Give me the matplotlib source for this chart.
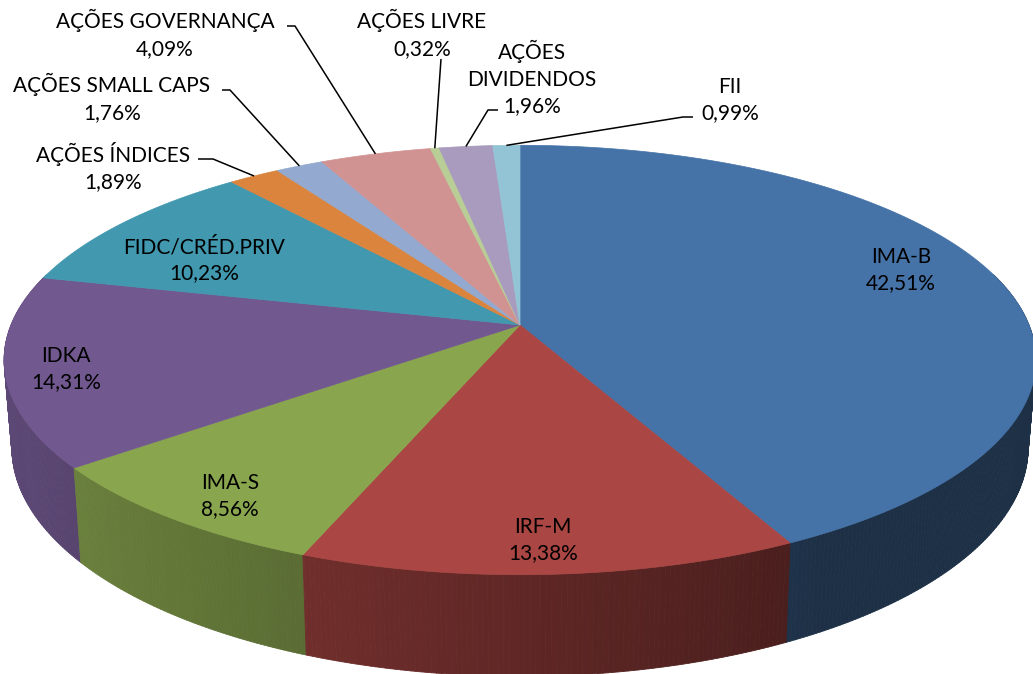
import numpy as np
import matplotlib
matplotlib.use("Agg")
import matplotlib.pyplot as plt
from matplotlib.collections import PolyCollection
from matplotlib.patches import Polygon
from matplotlib.colors import to_rgb

# ---------------- data ----------------
categories = ["IMA-B", "IRF-M", "IMA-S", "IDKA", "FIDC/CRÉD.PRIV",
              "AÇÕES ÍNDICES", "AÇÕES SMALL CAPS", "AÇÕES GOVERNANÇA",
              "AÇÕES LIVRE", "AÇÕES\nDIVIDENDOS", "FII"]
values = [42.51, 13.38, 8.56, 14.31, 10.23, 1.89, 1.76, 4.09, 0.32, 1.96, 0.99]
colors = ["#4572A7", "#AA4643", "#89A54E", "#71588F", "#4198AF",
          "#DB843D", "#93A9CF", "#D19392", "#B9CD96", "#A99BBD", "#92C4D5"]

# ---------------- layout / geometry ----------------
CX, CY = 520.0, 325.0      # apex of the pie on the top face (pixels)
A, M = 509.0, 209.0        # horizontal / vertical radii
P = 0.163                  # perspective factor
H = 85.0                   # thickness
SHRINK = 0.015             # bottom face slightly smaller (perspective)

# label centres (x, y) for each slice
label_pos = [(901, 270), (543, 540), (230, 496), (66, 369), (204, 260),
             (113, 167), (112, 98), (165, 34), (422, 34), (532, 78), (730, 100)]
# leader line fixed points (start near the label, elbow); None = no leader
leaders = [None, None, None, None, None,
           [(198, 159), (213, 159)],
           [(222, 90), (230, 90)],
           [(287, 26), (295, 26)],
           [(441, 59)],
           [(498, 110), (488, 110)],
           [(693, 117), (683, 117)]]


def proj(phi_deg, r=1.0, z=0.0):
    phi = np.radians(phi_deg)
    u = r * np.sin(phi)
    v = r * np.cos(phi)
    w = 1 + P * v
    x = CX + A * u / w * (1 - SHRINK * z)
    y = CY - M * v / w + z * H / w
    return x, y


def shade(u):
    return float(np.clip(0.56 - 0.27 * u, 0.42, 0.85))


fig = plt.figure(figsize=(10.33, 6.74), dpi=100)
ax = fig.add_axes([0, 0, 1, 1])
ax.set_xlim(0, 1033)
ax.set_ylim(674, 0)
ax.axis("off")

vals = np.array(values, dtype=float)
ends = np.cumsum(vals) / vals.sum() * 360.0
starts = np.concatenate([[0.0], ends[:-1]])

# ---------------- side walls ----------------
strips, strip_cols, strip_depth = [], [], []
for s, e, c in zip(starts, ends, colors):
    base = np.array(to_rgb(c))
    phis = np.append(np.arange(s, e, 0.5), e)
    for p0, p1 in zip(phis[:-1], phis[1:]):
        pm = 0.5 * (p0 + p1)
        vm = np.cos(np.radians(pm))
        if vm > 0.25:
            continue
        um = np.sin(np.radians(pm))
        x0t, y0t = proj(p0)
        x1t, y1t = proj(p1)
        x0b, y0b = proj(p0, z=1)
        x1b, y1b = proj(p1, z=1)
        strips.append([(x0t, y0t), (x1t, y1t), (x1b, y1b), (x0b, y0b)])
        strip_cols.append(tuple(base * shade(um)))
        strip_depth.append(vm)

order = np.argsort(strip_depth)[::-1]
pc = PolyCollection([strips[i] for i in order],
                    facecolors=[strip_cols[i] for i in order],
                    edgecolors=[strip_cols[i] for i in order],
                    linewidths=0.6, zorder=1)
ax.add_collection(pc)

# ---------------- top faces ----------------
for s, e, c in zip(starts, ends, colors):
    phis = np.linspace(s, e, max(int((e - s) * 2), 4))
    xs, ys = proj(phis)
    pts = [(CX, CY)] + list(zip(xs, ys))
    ax.add_patch(Polygon(pts, closed=True, facecolor=c, edgecolor=c,
                         linewidth=0.5, zorder=2))

# ---------------- labels ----------------
font = ["Lato", "DejaVu Sans"]
for i, (name, val) in enumerate(zip(categories, values)):
    txt = name + "\n" + f"{val:.2f}%".replace(".", ",")
    lx, ly = label_pos[i]
    ax.text(lx, ly, txt, ha="center", va="center", multialignment="center",
            fontsize=15, family=font, color="black", linespacing=1.4,
            zorder=5)
    if leaders[i] is not None:
        mid = 0.5 * (starts[i] + ends[i])
        axp, ayp = proj(mid)
        pts = leaders[i] + [(axp, ayp)]
        ax.plot([p[0] for p in pts], [p[1] for p in pts], color="black",
                lw=1.1, zorder=4, solid_capstyle="butt")

fig.savefig("out.png", dpi=100)
